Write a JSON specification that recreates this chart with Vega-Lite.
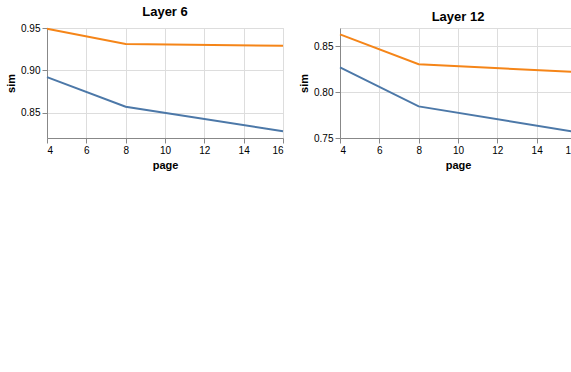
{
  "$schema": "https://vega.github.io/schema/vega-lite/v6.json",
  "padding": 5,
  "columns": 2,
  "spacing": 10,
  "data": {"values": [
    {"layer": "Layer 6", "series": "w/o position", "page": 4, "sim": 0.949},
    {"layer": "Layer 6", "series": "w/o position", "page": 8, "sim": 0.931},
    {"layer": "Layer 6", "series": "w/o position", "page": 16, "sim": 0.929},
    {"layer": "Layer 6", "series": "w/ position", "page": 4, "sim": 0.892},
    {"layer": "Layer 6", "series": "w/ position", "page": 8, "sim": 0.857},
    {"layer": "Layer 6", "series": "w/ position", "page": 16, "sim": 0.828},
    {"layer": "Layer 12", "series": "w/o position", "page": 4, "sim": 0.863},
    {"layer": "Layer 12", "series": "w/o position", "page": 8, "sim": 0.8305},
    {"layer": "Layer 12", "series": "w/o position", "page": 16, "sim": 0.822},
    {"layer": "Layer 12", "series": "w/ position", "page": 4, "sim": 0.827},
    {"layer": "Layer 12", "series": "w/ position", "page": 8, "sim": 0.7845},
    {"layer": "Layer 12", "series": "w/ position", "page": 16, "sim": 0.7565}
  ]},
  "concat": [
    {
      "title": "Layer 6",
      "width": 236, "height": 110,
      "transform": [{"filter": "datum.layer === 'Layer 6'"}],
      "mark": "line",
      "encoding": {
        "x": {"field": "page", "type": "quantitative"},
        "y": {"field": "sim", "type": "quantitative", "scale": {"zero": false}},
        "color": {"field": "series", "type": "nominal"}
      }
    },
    {
      "title": "Layer 12",
      "width": 236, "height": 110,
      "transform": [{"filter": "datum.layer === 'Layer 12'"}],
      "mark": "line",
      "encoding": {
        "x": {"field": "page", "type": "quantitative"},
        "y": {"field": "sim", "type": "quantitative", "scale": {"zero": false}},
        "color": {"field": "series", "type": "nominal"}
      }
    }
  ]
}
